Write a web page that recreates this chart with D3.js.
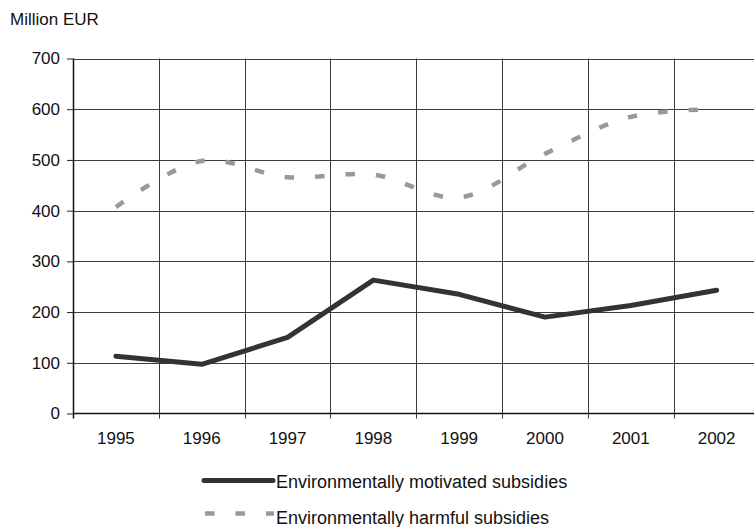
<!DOCTYPE html>
<html>
<head>
<meta charset="utf-8">
<script src="https://cdn.jsdelivr.net/npm/d3@7"></script>
<style>
  html, body { margin: 0; padding: 0; background: #fff; }
  svg { display: block; font-family: "Liberation Sans", Arial, sans-serif; }
</style>
</head>
<body>
<svg id="chart" width="754" height="527"></svg>
<script>
// Subsidies, million EUR
const years = ["1995", "1996", "1997", "1998", "1999", "2000", "2001", "2002"];
const motivated = [113, 97, 150, 263, 235, 190, 213, 243];
const harmful = [407, 498, 466, 471, 426, 512, 585, 600];
const yTicks = [0, 100, 200, 300, 400, 500, 600, 700];
const seriesNames = ["Environmentally motivated subsidies", "Environmentally harmful subsidies"];

const svg = d3.select("#chart");
const margin = { left: 73, top: 58.5, right: 759.5, bottom: 413.5 };

const x = d3.scaleBand().domain(years).range([margin.left, margin.right]);
const y = d3.scaleLinear().domain([0, 700]).range([margin.bottom, margin.top]);

const gridColor = "#3c3c3c";

// unit label
svg.append("text")
  .attr("x", 10).attr("y", 25)
  .attr("font-size", 17).attr("fill", "#111")
  .text("Million EUR");

// horizontal gridlines
svg.append("g").selectAll("line").data(yTicks.slice(1)).join("line")
  .attr("x1", margin.left).attr("x2", margin.right)
  .attr("y1", d => Math.round(y(d)) + 0.5).attr("y2", d => Math.round(y(d)) + 0.5)
  .attr("stroke", gridColor).attr("stroke-width", 1);

// vertical gridlines at category boundaries, extending below as ticks
const bounds = years.map(d => x(d)).slice(1);
svg.append("g").selectAll("line").data(bounds).join("line")
  .attr("x1", d => Math.round(d) + 0.5).attr("x2", d => Math.round(d) + 0.5)
  .attr("y1", margin.top).attr("y2", margin.bottom + 5)
  .attr("stroke", gridColor).attr("stroke-width", 1);

// y axis
const yAxis = d3.axisLeft(y).tickValues(yTicks).tickSize(6).tickPadding(7);
const gy = svg.append("g").attr("transform", `translate(${margin.left},0)`).call(yAxis);
gy.select(".domain").attr("stroke", "#111").attr("stroke-width", 1.5)
  .attr("d", `M0.5,${margin.top}V${margin.bottom + 5}`);
gy.selectAll(".tick line").attr("stroke", "#222");
gy.selectAll(".tick text").attr("font-size", 17).attr("fill", "#111")
  .attr("font-family", "Liberation Sans, Arial, sans-serif");

// x axis baseline and labels
svg.append("line")
  .attr("x1", margin.left).attr("x2", margin.right)
  .attr("y1", y(0)).attr("y2", y(0))
  .attr("stroke", "#111").attr("stroke-width", 1.5);

const xAxis = d3.axisBottom(x).tickSize(0).tickPadding(18);
const gx = svg.append("g").attr("transform", `translate(0,${y(0)})`).call(xAxis);
gx.select(".domain").remove();
gx.selectAll(".tick text").attr("font-size", 17).attr("fill", "#111")
  .attr("font-family", "Liberation Sans, Arial, sans-serif");

const cx = d => x(d) + x.bandwidth() / 2;

// harmful subsidies: smoothed, grey dashed
const lineSmooth = d3.line().x((d, i) => cx(years[i])).y(d => y(d)).curve(d3.curveCatmullRom.alpha(0.5));
svg.append("path").datum(harmful)
  .attr("d", lineSmooth)
  .attr("fill", "none").attr("stroke", "#999").attr("stroke-width", 4.5)
  .attr("stroke-dasharray", "9.5,21");

// motivated subsidies: solid dark line
const lineStraight = d3.line().x((d, i) => cx(years[i])).y(d => y(d));
svg.append("path").datum(motivated)
  .attr("d", lineStraight)
  .attr("fill", "none").attr("stroke", "#333").attr("stroke-width", 5)
  .attr("stroke-linejoin", "round").attr("stroke-linecap", "round");

// legend
const legend = svg.append("g");
legend.append("line")
  .attr("x1", 204).attr("x2", 273).attr("y1", 480.5).attr("y2", 480.5)
  .attr("stroke", "#333").attr("stroke-width", 5).attr("stroke-linecap", "round");
legend.append("text").attr("x", 276).attr("y", 487.5)
  .attr("font-size", 18).attr("fill", "#111").text(seriesNames[0]);

legend.append("line")
  .attr("x1", 205).attr("x2", 274).attr("y1", 513.5).attr("y2", 513.5)
  .attr("stroke", "#999").attr("stroke-width", 4.5).attr("stroke-dasharray", "9.5,21");
legend.append("text").attr("x", 276).attr("y", 523.5)
  .attr("font-size", 18).attr("fill", "#111").text(seriesNames[1]);
</script>
</body>
</html>
